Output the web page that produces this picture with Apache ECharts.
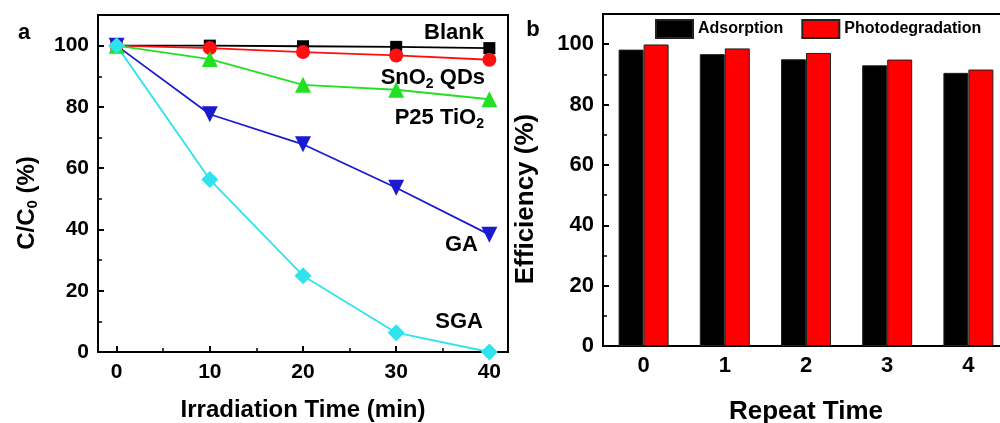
<!DOCTYPE html>
<html><head><meta charset="utf-8">
<script src="https://cdn.jsdelivr.net/npm/echarts@6/dist/echarts.min.js"></script>
<style>html,body{margin:0;padding:0;background:#fff}#c{width:1000px;height:423px}</style>
</head><body><div id="c"></div>
<script>
// ---- data ----
const timeMin = [0, 10, 20, 30, 40];
const blank = [100, 100, 99.8, 99.6, 99.2];
const sno2 = [100, 99.2, 97.9, 96.8, 95.4];
const p25 = [100, 95.6, 87.2, 85.6, 82.5];
const ga = [100, 77.6, 67.8, 53.6, 38.3];
const sga = [100, 56.3, 24.9, 6.3, 0];
const repeatTimes = ['0', '1', '2', '3', '4'];
const adsorption = [98.2, 96.7, 95.0, 93.0, 90.5];
const photodeg = [99.9, 98.6, 97.1, 94.9, 91.6];
const xTicksA = [0, 10, 20, 30, 40];
const xMinorA = [5, 15, 25, 35];
const yTicks = [0, 20, 40, 60, 80, 100];
const yMinor = [10, 30, 50, 70, 90];

const FONT = '"Liberation Sans", Arial, sans-serif';
const pairs = arr => timeMin.map((t, i) => [t, arr[i]]);
const lbl = (size) => ({color: '#000', fontFamily: FONT, fontWeight: 'bold', fontSize: size});

function majorAxis(extra) {
  return Object.assign({
    axisLine: {show: true, onZero: false, lineStyle: {color: '#000', width: 2}},
    axisTick: {show: true, inside: true, length: 6, lineStyle: {color: '#000', width: 2}},
    splitLine: {show: false}
  }, extra);
}
function minorAxis(extra) {
  return Object.assign({
    axisLine: {show: false, onZero: false},
    axisLabel: {show: false},
    splitLine: {show: false}
  }, extra);
}

const chart = echarts.init(document.getElementById('c'), null, {renderer: 'canvas'});
const lineSeries = (name, data, color, symbol, size, rot) => ({
  name, type: 'line', xAxisIndex: 0, yAxisIndex: 0, data: pairs(data),
  symbol, symbolSize: size, symbolRotate: rot || 0,
  lineStyle: {color, width: 1.8}, itemStyle: {color, borderWidth: 0}, clip: false,
  emphasis: {disabled: true}
});

chart.setOption({
  animation: false,
  textStyle: {fontFamily: FONT},
  grid: [
    {left: 98, top: 15, right: 492, bottom: 71, containLabel: false, outerBoundsMode: 'none',
      show: true, borderColor: '#000', borderWidth: 2, backgroundColor: 'transparent'},
    {left: 603, top: 14, right: -9, bottom: 77, containLabel: false, outerBoundsMode: 'none',
      show: true, borderColor: '#000', borderWidth: 2, backgroundColor: 'transparent'}
  ],
  legend: {
    data: ['Adsorption', 'Photodegradation'],
    left: 655, top: 19, padding: 0, itemWidth: 37, itemHeight: 18, itemGap: 18,
    textStyle: lbl(16), icon: 'rect'
  },
  xAxis: [
    majorAxis({gridIndex: 0, type: 'value', position: 'bottom', min: -2, max: 42,
      axisTick: {show: true, inside: true, length: 6, customValues: xTicksA, lineStyle: {color: '#000', width: 2}},
      axisLabel: Object.assign({customValues: xTicksA, margin: 10}, lbl(21)),
      name: 'Irradiation Time (min)', nameLocation: 'middle', nameGap: 46, nameTextStyle: lbl(24)}),
    minorAxis({gridIndex: 0, type: 'value', position: 'bottom', min: -2, max: 42,
      axisTick: {show: true, inside: true, length: 4, customValues: xMinorA, lineStyle: {color: '#000', width: 1.5}}}),
    majorAxis({gridIndex: 1, type: 'category', position: 'bottom', data: repeatTimes,
      axisTick: {show: false},
      axisLabel: Object.assign({margin: 9}, lbl(22)),
      name: 'Repeat Time', nameLocation: 'middle', nameGap: 53, nameTextStyle: lbl(26)})
  ],
  yAxis: [
    majorAxis({gridIndex: 0, type: 'value', position: 'left', min: 0, max: 110,
      axisTick: {show: true, inside: true, length: 6, customValues: yTicks, lineStyle: {color: '#000', width: 2}},
      axisLabel: Object.assign({customValues: yTicks, margin: 9}, lbl(21))}),
    minorAxis({gridIndex: 0, type: 'value', position: 'left', min: 0, max: 110,
      axisTick: {show: true, inside: true, length: 4, customValues: yMinor, lineStyle: {color: '#000', width: 1.5}}}),
    majorAxis({gridIndex: 1, type: 'value', position: 'left', min: 0, max: 110,
      axisTick: {show: true, inside: true, length: 6, customValues: yTicks, lineStyle: {color: '#000', width: 2}},
      axisLabel: Object.assign({customValues: yTicks, margin: 9}, lbl(22))}),
    minorAxis({gridIndex: 1, type: 'value', position: 'left', min: 0, max: 110,
      axisTick: {show: true, inside: true, length: 4, customValues: yMinor, lineStyle: {color: '#000', width: 1.5}}})
  ],
  series: [
    lineSeries('Blank', blank, '#000000', 'rect', 12),
    lineSeries('SnO2 QDs', sno2, '#ff1010', 'circle', 14),
    lineSeries('P25 TiO2', p25, '#22e022', 'triangle', 16),
    lineSeries('GA', ga, '#1a1ad0', 'triangle', 16, 180),
    lineSeries('SGA', sga, '#2ee3ee', 'rect', 12, 45),
    {name: 'Adsorption', type: 'bar', xAxisIndex: 2, yAxisIndex: 2, data: adsorption,
      barWidth: 25, barGap: '0%', itemStyle: {color: '#000000', borderColor: '#222', borderWidth: 1}},
    {name: 'Photodegradation', type: 'bar', xAxisIndex: 2, yAxisIndex: 2, data: photodeg,
      barWidth: 25, barGap: '0%', itemStyle: {color: '#ff0000', borderColor: '#222', borderWidth: 1}}
  ],
  graphic: [
    {type: 'text', x: 27, y: 203, rotation: Math.PI / 2,
      style: {text: '{m|C/C}{s|0}{m| (%)}', textAlign: 'center', textVerticalAlign: 'middle',
        rich: {m: lbl(24), s: Object.assign({padding: [12, 0, 0, 0]}, lbl(15))}}},
    {type: 'text', x: 526, y: 199, rotation: Math.PI / 2,
      style: {text: 'Efficiency (%)', textAlign: 'center', textVerticalAlign: 'middle', fill: '#000', font: 'bold 26px ' + FONT}},
    {type: 'text', x: 24, y: 33, style: {text: 'a', textAlign: 'center', textVerticalAlign: 'middle', fill: '#000', font: 'bold 22px ' + FONT}},
    {type: 'text', x: 533, y: 30, style: {text: 'b', textAlign: 'center', textVerticalAlign: 'middle', fill: '#000', font: 'bold 22px ' + FONT}},
    {type: 'text', x: 484, y: 33, style: {text: 'Blank', textAlign: 'right', textVerticalAlign: 'middle', fill: '#000', font: 'bold 22px ' + FONT}},
    {type: 'text', x: 485, y: 78, style: {text: '{m|SnO}{s|2}{m| QDs}', textAlign: 'right', textVerticalAlign: 'middle',
      rich: {m: lbl(22), s: Object.assign({padding: [12, 0, 0, 0]}, lbl(14))}}},
    {type: 'text', x: 484, y: 118, style: {text: '{m|P25 TiO}{s|2}', textAlign: 'right', textVerticalAlign: 'middle',
      rich: {m: lbl(22), s: Object.assign({padding: [12, 0, 0, 0]}, lbl(14))}}},
    {type: 'text', x: 478, y: 245, style: {text: 'GA', textAlign: 'right', textVerticalAlign: 'middle', fill: '#000', font: 'bold 22px ' + FONT}},
    {type: 'text', x: 483, y: 322, style: {text: 'SGA', textAlign: 'right', textVerticalAlign: 'middle', fill: '#000', font: 'bold 22px ' + FONT}}
  ]
});
</script>
</body></html>
